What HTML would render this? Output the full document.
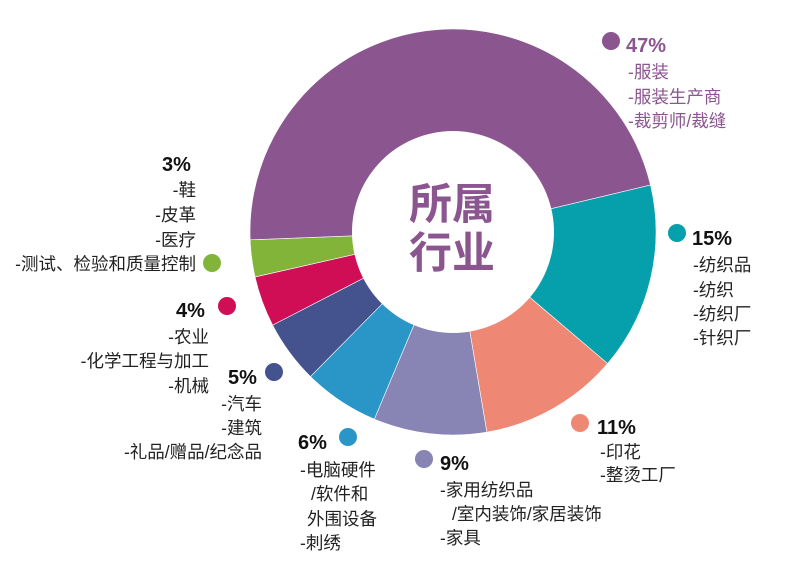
<!DOCTYPE html>
<html><head><meta charset="utf-8"><style>
html,body{margin:0;padding:0;background:#fff;}
svg{display:block;font-family:"Liberation Sans","Noto Sans CJK SC",sans-serif;}
.l{font-size:17.5px;fill:#222;}
.p{font-size:20px;font-weight:bold;fill:#111;}
</style></head><body>
<svg width="797" height="566" viewBox="0 0 797 566" xmlns="http://www.w3.org/2000/svg">
<g id="pie"></g>
<circle cx="453" cy="232" r="101" fill="#fff"/>
<text x="452" y="219" text-anchor="middle" font-size="43" font-weight="bold" fill="#8B5590">所属</text>
<text x="452" y="268" text-anchor="middle" font-size="43" font-weight="bold" fill="#8B5590">行业</text>

<circle cx="611" cy="41" r="9" fill="#8B5590"/>
<text x="626" y="52" class="p" style="fill:#8B5590">47%</text>
<text x="628" y="78" class="l" style="fill:#8B5590">-服装</text>
<text x="628" y="103" class="l" style="fill:#8B5590">-服装生产商</text>
<text x="628" y="127" class="l" style="fill:#8B5590">-裁剪师/裁缝</text>

<circle cx="677" cy="233" r="9" fill="#05A0AB"/>
<text x="692" y="245" class="p">15%</text>
<text x="693" y="271" class="l">-纺织品</text>
<text x="693" y="296" class="l">-纺织</text>
<text x="693" y="320" class="l">-纺织厂</text>
<text x="693" y="344" class="l">-针织厂</text>

<circle cx="580" cy="423" r="9" fill="#EE8874"/>
<text x="597" y="434" class="p">11%</text>
<text x="600" y="458" class="l">-印花</text>
<text x="600" y="481" class="l">-整烫工厂</text>

<circle cx="424" cy="459" r="9" fill="#8884B3"/>
<text x="440" y="470" class="p">9%</text>
<text x="440" y="496" class="l">-家用纺织品</text>
<text x="452" y="520" class="l">/室内装饰/家居装饰</text>
<text x="440" y="544" class="l">-家具</text>

<circle cx="348" cy="437" r="9" fill="#2A96C8"/>
<text x="298" y="449" class="p">6%</text>
<text x="300" y="476" class="l">-电脑硬件</text>
<text x="311" y="500" class="l">/软件和</text>
<text x="307" y="525" class="l">外围设备</text>
<text x="300" y="549" class="l">-刺绣</text>

<circle cx="274" cy="372" r="9" fill="#44538E"/>
<text x="228" y="384" class="p">5%</text>
<text x="262" y="410" class="l" text-anchor="end">-汽车</text>
<text x="262" y="434" class="l" text-anchor="end">-建筑</text>
<text x="262" y="458" class="l" text-anchor="end">-礼品/赠品/纪念品</text>

<circle cx="227" cy="306" r="9" fill="#CF0E55"/>
<text x="176" y="317" class="p">4%</text>
<text x="209" y="343" class="l" text-anchor="end">-农业</text>
<text x="209" y="367" class="l" text-anchor="end">-化学工程与加工</text>
<text x="209" y="392" class="l" text-anchor="end">-机械</text>

<circle cx="212" cy="263" r="9" fill="#82B43A"/>
<text x="162" y="171" class="p">3%</text>
<text x="196" y="196" class="l" text-anchor="end">-鞋</text>
<text x="196" y="221" class="l" text-anchor="end">-皮革</text>
<text x="196" y="246" class="l" text-anchor="end">-医疗</text>
<text x="196" y="270" class="l" text-anchor="end">-测试、检验和质量控制</text>
</svg>
<script>
(function(){
var cx=453,cy=232,R=203;
var b=[-13.4,40.4,80.4,112.8,134.6,152.7,167.2,177.8,346.6];
var c=["#05A0AB","#EE8874","#8884B3","#2A96C8","#44538E","#CF0E55","#82B43A","#8B5590"];
var g=document.getElementById("pie"),ns="http://www.w3.org/2000/svg";
for(var i=0;i<8;i++){
 var a0=b[i]*Math.PI/180,a1=b[i+1]*Math.PI/180;
 var x0=cx+R*Math.cos(a0),y0=cy+R*Math.sin(a0),x1=cx+R*Math.cos(a1),y1=cy+R*Math.sin(a1);
 var large=(b[i+1]-b[i])>180?1:0;
 var p=document.createElementNS(ns,"path");
 p.setAttribute("d","M"+cx+","+cy+"L"+x0+","+y0+"A"+R+","+R+" 0 "+large+" 1 "+x1+","+y1+"Z");
 p.setAttribute("fill",c[i]);p.setAttribute("stroke","#fff");p.setAttribute("stroke-width","0.6");
 g.appendChild(p);
}
})();
</script>
</body></html>
